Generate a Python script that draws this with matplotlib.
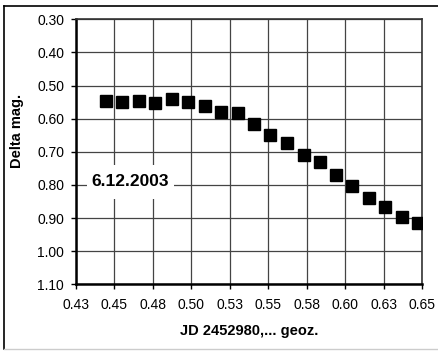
import matplotlib
matplotlib.use("Agg")
import matplotlib.pyplot as plt
from matplotlib.lines import Line2D
from matplotlib.patches import Rectangle

plt.rcParams['font.family'] = ['Liberation Sans', 'DejaVu Sans']

# JD 2452980 + x (geocentric), magnitude difference
jd = [0.4445, 0.4551, 0.4658, 0.4766, 0.4872, 0.4980, 0.5087, 0.5193,
      0.5302, 0.5408, 0.5514, 0.5622, 0.5731, 0.5837, 0.5942, 0.6047,
      0.6153, 0.6261, 0.6368, 0.6476]
dmag = [0.547, 0.551, 0.547, 0.553, 0.541, 0.551, 0.562, 0.579,
        0.584, 0.616, 0.648, 0.674, 0.709, 0.730, 0.769, 0.802,
        0.839, 0.866, 0.898, 0.916]

xticks = [0.425 + 0.025 * i for i in range(10)]
xlabels = ['0.43', '0.45', '0.48', '0.50', '0.53', '0.55', '0.58', '0.60', '0.63', '0.65']
yticks = [0.30, 0.40, 0.50, 0.60, 0.70, 0.80, 0.90, 1.00, 1.10]

fig = plt.figure(figsize=(4.38, 3.51), dpi=100)
ax = fig.add_axes([0.1735, 0.190, 0.79, 0.755])

ax.plot(jd, dmag, 's', color='black', ms=8, zorder=4)

ax.set_xlim(0.425, 0.65)
ax.set_ylim(1.10, 0.30)
ax.set_xticks(xticks)
ax.set_xticklabels(xlabels)
ax.set_yticks(yticks)
ax.set_yticklabels(['%.2f' % v for v in yticks])
ax.tick_params(direction='out', length=3.6, width=1, labelsize=10, pad=5)
ax.tick_params(axis='x', pad=6)

ax.grid(True, color='#444444', linewidth=0.9)
ax.set_axisbelow(True)
for s in ['top', 'right']:
    ax.spines[s].set_color('#333333')
    ax.spines[s].set_linewidth(1.2)
for s in ['left', 'bottom']:
    ax.spines[s].set_color('black')
    ax.spines[s].set_linewidth(1.8)

# date label on a white patch
ax.add_patch(Rectangle((0.4322, 0.740), 0.0565, 0.103, facecolor='white',
                       edgecolor='none', zorder=2))
ax.text(0.4605, 0.791, '6.12.2003', fontsize=12.5, fontweight='bold',
        ha='center', va='center', zorder=3)

fig.text(0.568, 1 - 331 / 351, 'JD 2452980,... geoz.', fontsize=10.5,
         fontweight='bold', ha='center', va='center')
fig.text(16.7 / 438, 1 - 131 / 351, 'Delta mag.', fontsize=10.5,
         fontweight='bold', rotation=90, ha='center', va='center')

# chart area frame
fig.add_artist(Line2D([4 / 438, 4 / 438], [1 - 6 / 351, 1 - 349 / 351],
                      color='black', lw=1.2))
fig.add_artist(Line2D([4 / 438, 1.0], [1 - 6 / 351, 1 - 6 / 351],
                      color='black', lw=1.2))
fig.add_artist(Line2D([4 / 438, 1.0], [1 - 349 / 351, 1 - 349 / 351],
                      color='#cccccc', lw=1.0))

fig.savefig('out.png', dpi=100)
